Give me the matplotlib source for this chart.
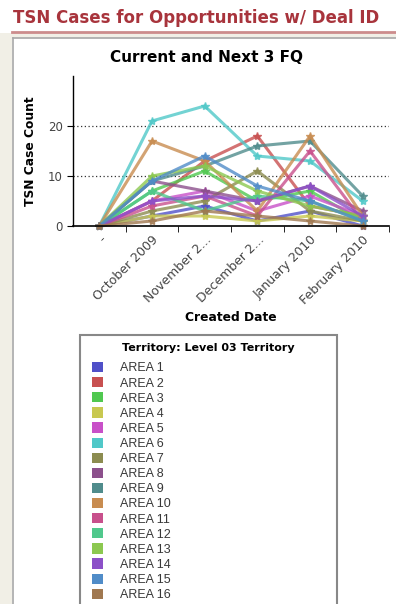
import matplotlib.pyplot as plt
from matplotlib.patches import Patch, Rectangle
from matplotlib.lines import Line2D

# monthly TSN case counts per territory
months = ["-", "October 2009", "November 2...", "December 2...", "January 2010", "February 2010"]
areas = ["AREA 1", "AREA 2", "AREA 3", "AREA 4", "AREA 5", "AREA 6", "AREA 7", "AREA 8",
         "AREA 9", "AREA 10", "AREA 11", "AREA 12", "AREA 13", "AREA 14", "AREA 15", "AREA 16"]
colors = ["#5050c8", "#c85050", "#50c850", "#c8c850", "#c850c8", "#50c8c8", "#8c8c50", "#8c508c",
          "#508c8c", "#c88c50", "#c8508c", "#50c88c", "#8cc850", "#8c50c8", "#508cc8", "#a07850"]
counts = [
    [0, 2, 4, 1, 3, 0],
    [0, 5, 13, 18, 4, 2],
    [0, 7, 11, 5, 7, 1],
    [0, 2, 2, 1, 2, 1],
    [0, 5, 7, 3, 6, 2],
    [0, 21, 24, 14, 13, 5],
    [0, 3, 5, 11, 3, 1],
    [0, 9, 7, 5, 8, 3],
    [0, 9, 12, 16, 17, 6],
    [0, 17, 13, 3, 18, 2],
    [0, 4, 6, 2, 15, 1],
    [0, 7, 3, 6, 5, 1],
    [0, 10, 12, 7, 4, 2],
    [0, 5, 6, 5, 8, 2],
    [0, 9, 14, 8, 5, 1],
    [0, 1, 3, 2, 1, 0],
]

fig = plt.figure(figsize=(3.96, 6.04), dpi=100)
W, H = 396, 604

def fx(px):
    return px / W

def fy(py):
    return 1 - py / H

# page frame: off-white strip, red rule, grey panel border
fig.patches.append(Rectangle((0, 0), fx(12), fy(33), transform=fig.transFigure,
                             facecolor="#f1efe6", edgecolor="none", zorder=0))
fig.patches.append(Rectangle((fx(12), fy(38)), 1, fy(33) - fy(38), transform=fig.transFigure,
                             facecolor="#f1efe6", edgecolor="none", zorder=0))
fig.add_artist(Line2D([fx(12), 1], [fy(32), fy(32)], color="#cc8c8c", lw=2))
fig.add_artist(Line2D([fx(13), 1], [fy(38), fy(38)], color="#a8a8a8", lw=1.2))
fig.add_artist(Line2D([fx(13), fx(13)], [fy(38), 0], color="#a8a8a8", lw=1.2))

fig.text(fx(13), fy(18), "TSN Cases for Opportunities w/ Deal ID", color="#a8343c",
         fontsize=12, fontweight="bold", va="center", ha="left")
fig.text(fx(207), fy(58), "Current and Next 3 FQ", fontsize=11, fontweight="bold",
         ha="center", va="center")

ax = fig.add_axes([fx(73), fy(226), fx(389) - fx(73), fy(76) - fy(226)])
x = range(len(months))
for name, c, vals in zip(areas, colors, counts):
    ax.plot(x, vals, color=c, lw=2.2, alpha=0.8, marker="*", ms=6, clip_on=False)

ax.set_xlim(-0.5, len(months) - 0.5)
ax.set_ylim(0, 30)
ax.set_yticks([0, 10, 20])
for v in (10, 20):
    ax.axhline(v, color="#333333", lw=0.9, ls=(0, (1, 2)), zorder=0)
ax.set_xticks(list(x))
ax.set_xticklabels(months, rotation=45, ha="right", rotation_mode="anchor",
                   fontsize=9, color="#444444")
ax.set_xticks([i - 0.5 for i in range(1, len(months))] + [len(months) - 0.5], minor=True)
ax.tick_params(axis="x", which="major", length=0, pad=5)
ax.tick_params(axis="x", which="minor", length=4, direction="out")
ax.tick_params(axis="y", length=4, labelsize=8.5, labelcolor="#444444")
for s in ("top", "right"):
    ax.spines[s].set_visible(False)
ax.spines["left"].set_linewidth(1)
ax.spines["bottom"].set_linewidth(1.2)
ax.set_ylabel("TSN Case Count", fontsize=8.8, fontweight="bold", labelpad=8)
ax.set_xlabel("Created Date", fontsize=8.8, fontweight="bold", labelpad=3)

# legend panel
fig.patches.append(Rectangle((fx(80), fy(620)), fx(337) - fx(80), fy(335) - fy(620),
                             transform=fig.transFigure, facecolor="white",
                             edgecolor="#888888", lw=1.5, zorder=1))
fig.text(fx(208), fy(348), "Territory: Level 03 Territory", fontsize=8, fontweight="bold",
         ha="center", va="center", zorder=3)
handles = [Patch(facecolor=c, edgecolor="none") for c in colors]
leg = fig.legend(handles, areas, loc="upper left", bbox_to_anchor=(fx(92), fy(362)),
                 frameon=False, prop={"family": "Liberation Sans", "size": 9},
                 handlelength=0.88, handleheight=0.88, handletextpad=1.36,
                 labelspacing=0.215, borderpad=0, borderaxespad=0)
leg.set_zorder(3)
for t in leg.get_texts():
    t.set_color("#383838")

fig.savefig("out.png", dpi=100)
